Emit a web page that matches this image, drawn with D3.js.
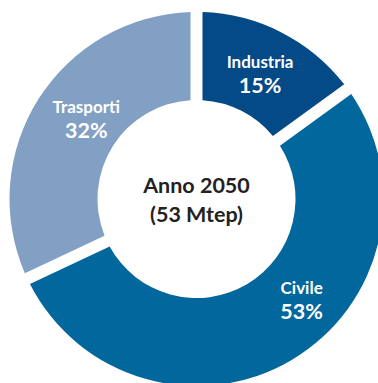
<!DOCTYPE html>
<html>
<head>
<meta charset="utf-8">
<script src="https://cdn.jsdelivr.net/npm/d3@7"></script>
<style>
  html, body { margin: 0; padding: 0; background: #fff; }
  svg { display: block; }
</style>
</head>
<body>
<svg id="chart" width="378" height="383"></svg>
<script>
// Final energy consumption by sector, year 2050
const sectors = ["Industria", "Civile", "Trasporti"];
const shares = [15, 53, 32];
const sectorColors = ["#034a86", "#02679c", "#82a0c4"];
const centerLines = ["Anno 2050", "(53 Mtep)"];

const width = 378, height = 383;
const cx = 196.5, cy = 199;
const outerR = 187, innerR = 99;
const gap = 12;

const svg = d3.select("#chart");
const g = svg.append("g").attr("transform", `translate(${cx},${cy})`);

const data = sectors.map((name, i) => ({ name, value: shares[i], color: sectorColors[i] }));

const pie = d3.pie().value(d => d.value).sort(null).startAngle(0).endAngle(2 * Math.PI);
const arcs = pie(data);

const arc = d3.arc()
  .innerRadius(innerR)
  .outerRadius(outerR)
  .padRadius(100)
  .padAngle(gap / 100);

g.selectAll("path.slice")
  .data(arcs)
  .join("path")
  .attr("class", "slice")
  .attr("d", arc)
  .attr("fill", d => d.data.color);

// label placement: radius and a small angular nudge per slice
const labelR = [140, 146, 136];
const labelNudge = [0, -0.27, 0.06];

const labels = g.selectAll("g.label")
  .data(arcs)
  .join("g")
  .attr("class", "label")
  .attr("transform", (d, i) => {
    const a = (d.startAngle + d.endAngle) / 2 + labelNudge[i];
    const r = labelR[i];
    return `translate(${r * Math.sin(a)},${-r * Math.cos(a)})`;
  });

labels.append("text")
  .attr("text-anchor", "middle")
  .attr("y", -6)
  .attr("fill", "#ffffff")
  .style("font-family", "Lato, 'Noto Sans', sans-serif")
  .style("font-weight", "700")
  .style("font-size", "17px")
  .text(d => d.data.name);

labels.append("text")
  .attr("text-anchor", "middle")
  .attr("y", 18.5)
  .attr("fill", "#ffffff")
  .style("font-family", "Lato, 'Noto Sans', sans-serif")
  .style("font-weight", "700")
  .style("font-size", "21.5px")
  .text(d => d.data.value + "%");

// center caption
g.selectAll("text.center")
  .data(centerLines)
  .join("text")
  .attr("class", "center")
  .attr("text-anchor", "middle")
  .attr("y", (d, i) => -6 + i * 29)
  .attr("fill", "#222222")
  .style("font-family", "Lato, 'Noto Sans', sans-serif")
  .style("font-weight", "700")
  .style("font-size", "21.5px")
  .text(d => d);
</script>
</body>
</html>
